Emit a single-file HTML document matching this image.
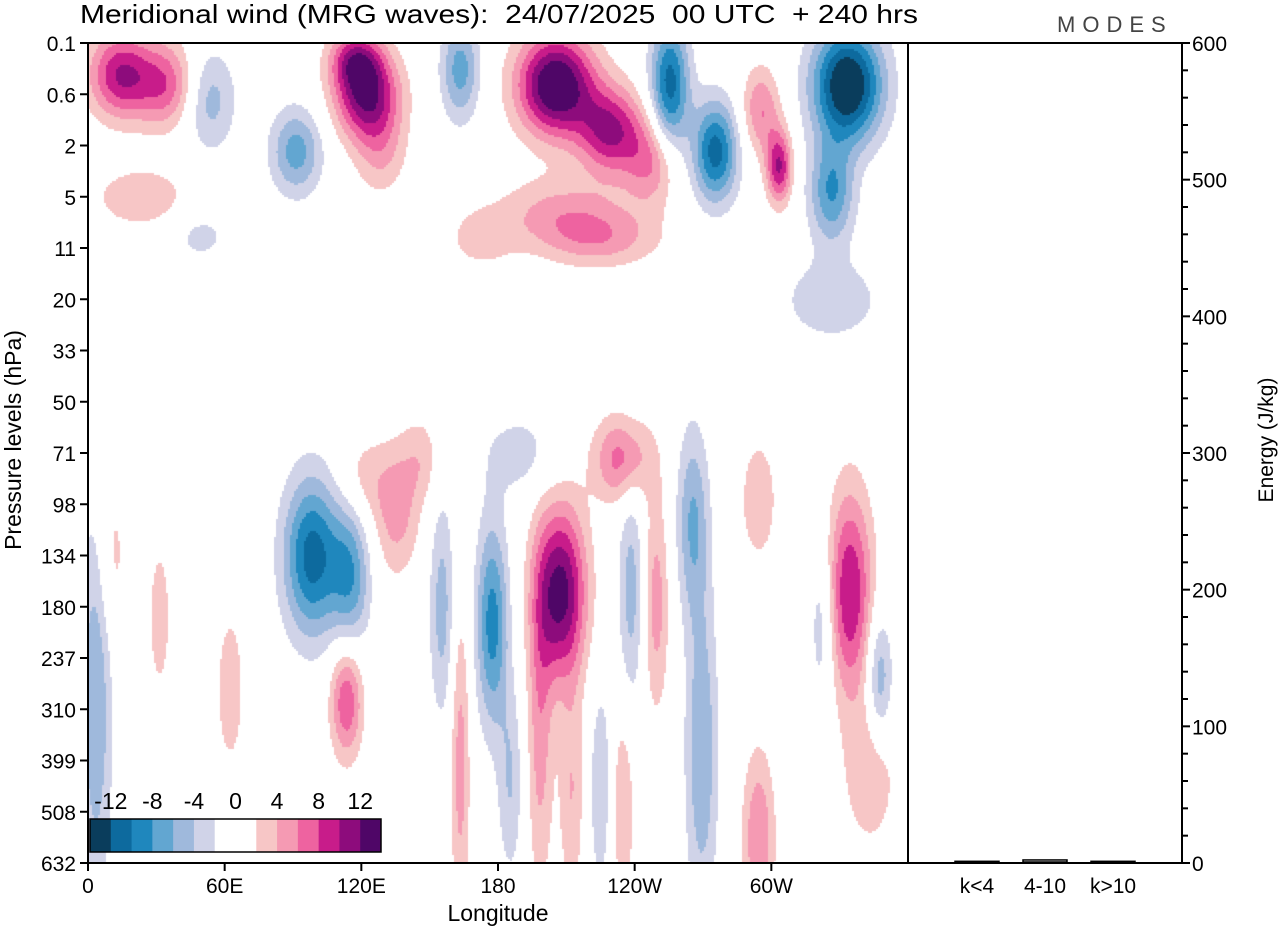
<!DOCTYPE html>
<html><head><meta charset="utf-8"><style>
body{margin:0;background:#fff;font-family:"Liberation Sans",sans-serif;}
#wrap{position:relative;width:1280px;height:930px;overflow:hidden}
canvas{position:absolute;left:88px;top:43px}
svg{position:absolute;left:0;top:0}
text{white-space:pre}
</style></head><body><div id="wrap">
<canvas id="cv" width="820" height="820"></canvas>
<svg id="sv" width="1280" height="930"></svg>
</div>
<script>
// blob data: lon (deg east 0-360), level index (0=0.1hPa .. 16=632hPa), amplitude (m/s), lon spread, level spread
const blobLon=[14,34,53,91,122,117,163,205,229,247,255,275,295,303,333,326,23,128,207,225,326,49,172,
98,115,207,177,234,190,155,238,249,265,294,334,163,198,212,269,234,294,343,113,3,135,146,120,10,31,62,225,322,347,185];
const blobLev=[0.6,0.8,1.1,2.1,1.0,0.3,0.5,0.8,1.7,2.3,0.8,2.1,1.3,2.4,0.8,2.9,3.0,2.1,3.3,3.8,5.0,3.75,3.8,
10,10.4,10.7,11.3,8.1,8,11,10.7,10.9,9.3,8.9,10.7,14,13.4,14.6,13.8,14.8,15.5,14.2,12.8,12.8,9.1,8.1,8.5,10,11.2,12.6,14.5,11.3,12.4,14.4];
const blobAmp=[10,7,-5,-7,12,8,-7,15,10,6,-11,-11,6,10,-15,-8,4,4,4.5,4.5,-3.5,-2.6,3,
-11,-7,13,-9,7,-3,-5,-5,5,-6,3.5,10,5,5,4,-6,4,6,4,8,-6,5,3,3,3,3,4,-4,-4,-6,-4];
const blobSx=[10,9,8,8,10,8,6,12,10,8,6,7,6,4,11,7,14,8,20,18,16,10,10,
9,6,8,5,9,12,4,4,4,5,6,7,3,4,4,5,4,5,8,5,5,7,6,8,5,4,4,4,4,4,4];
const blobSy=[0.6,0.6,0.7,0.6,0.6,0.4,0.7,0.7,0.6,0.6,0.9,0.7,0.6,0.5,0.8,0.7,0.4,0.6,0.5,0.4,0.6,0.4,0.4,
1.1,1.0,1.2,1.4,0.6,0.6,1.5,1.6,1.5,1.3,0.9,1.4,2.2,2.2,1.5,2.2,1.5,1.2,1.0,0.8,2.6,0.9,0.6,0.6,1.2,1.2,1.0,1.5,1.2,0.9,1.3];
const bandColors=["#0a3d5c","#0d6a9e","#1f87bd","#62a6d1","#9fb9dc","#d0d3e8","#ffffff","#ffffff","#f7c6c6","#f59ab3","#ee63a0","#c81c8a","#8d0c7c","#4f0667"];
const cbLabels=["-12","-8","-4","0","4","8","12"];
const levelLabels=["0.1","0.6","2","5","11","20","33","50","71","98","134","180","237","310","399","508","632"];
const lonLabels=["0","60E","120E","180","120W","60W"];
const energyTicks=[0,100,200,300,400,500,600];
const energyCats=["k<4","4-10","k>10"];
const energyVals=[0.5,1.5,0.5];

const X0=88,Y0=43,W=820,H=820;
const xOfLon=l=>X0+l/360*W, yOfLev=v=>Y0+v/16*H;
const cv=document.getElementById('cv'),ctx=cv.getContext('2d');
const S=2;
for(let py=0;py<H;py+=S){const lev=py/H*16;
 for(let px=0;px<W;px+=S){const lon=px/W*360;let v=0;
  for(let i=0;i<blobLon.length;i++){const dx=(lon-blobLon[i])/blobSx[i],dy=(lev-blobLev[i])/blobSy[i];const d=dx*dx+dy*dy;if(d<20)v+=blobAmp[i]*Math.exp(-d/2);}
  let b=Math.floor(v/2)+7;b=Math.max(0,Math.min(13,b));
  if(b===6||b===7)continue;ctx.fillStyle=bandColors[b];ctx.fillRect(px,py,S,S);}}
const sv=document.getElementById('sv');const NS="http://www.w3.org/2000/svg";
function el(t,a,txt){const e=document.createElementNS(NS,t);for(const k in a)e.setAttribute(k,a[k]);if(txt!==undefined)e.textContent=txt;sv.appendChild(e);return e;}
let e;
e=el('text',{x:80,y:23,'font-size':26,textLength:838,lengthAdjust:'spacingAndGlyphs'},'Meridional wind (MRG waves):  24/07/2025  00 UTC  + 240 hrs');


e=el('text',{x:1057,y:32,'font-size':22,fill:'#444','letter-spacing':'7'},'MODES');


e=el('rect',{x:88,y:43,width:1094,height:820,fill:'none',stroke:'#000','stroke-width':2});


e=el('line',{x1:908,y1:43,x2:908,y2:863,stroke:'#000','stroke-width':2});


levelLabels.forEach((t,i)=>{const y=yOfLev(i);
 e=el('line',{x1:80,y1:y,x2:88,y2:y,stroke:'#000','stroke-width':2});
 
 
 e=el('text',{x:76,y:y+8,'font-size':21,'text-anchor':'end'},t);
 
 });
lonLabels.forEach((t,i)=>{const x=xOfLon(i*60);
 e=el('line',{x1:x,y1:863,x2:x,y2:871,stroke:'#000','stroke-width':2});
 
 
 e=el('text',{x:x,y:893,'font-size':21,'text-anchor':'middle'},t);
 
 });
e=el('text',{x:498,y:921,'font-size':23,'text-anchor':'middle'},'Longitude');


e=el('text',{x:0,y:0,'font-size':23,'text-anchor':'middle',transform:'translate(21,440) rotate(-90)'},'Pressure levels (hPa)');


const yE=v=>863-v/600*820;
for(let v=0;v<=600;v+=20){const y=yE(v);const maj=v%100===0;
 e=el('line',{x1:1182,y1:y,x2:maj?1190:1188,y2:y,stroke:'#000','stroke-width':2});
 
 }
energyTicks.forEach(v=>{e=el('text',{x:1192,y:yE(v)+8,'font-size':21},String(v));
 
 });
e=el('text',{x:0,y:0,'font-size':21,'text-anchor':'middle',transform:'translate(1273,440) rotate(-90)'},'Energy (J/kg)');


energyCats.forEach((c,i)=>{const cx=977+i*68;
 e=el('rect',{x:cx-22,y:yE(energyVals[i])-1,width:44,height:Math.max(1,863-yE(energyVals[i])),fill:'#fff',stroke:'#000','stroke-width':1.5});
 
 
 e=el('text',{x:cx,y:893,'font-size':21,'text-anchor':'middle'},c);
 
 });
const cbX=90,cbW=291/14;
bandColors.forEach((c,i)=>{e=el('rect',{x:cbX+i*cbW,y:819,width:cbW+0.5,height:33,fill:c});
 
 });
e=el('rect',{x:cbX,y:819,width:291,height:33,fill:'none',stroke:'#000','stroke-width':1.5});


cbLabels.forEach((t,i)=>{e=el('text',{x:cbX+(i*2+1)*cbW,y:809,'font-size':23,'text-anchor':'middle'},t);
 
 });
</script></body></html>
